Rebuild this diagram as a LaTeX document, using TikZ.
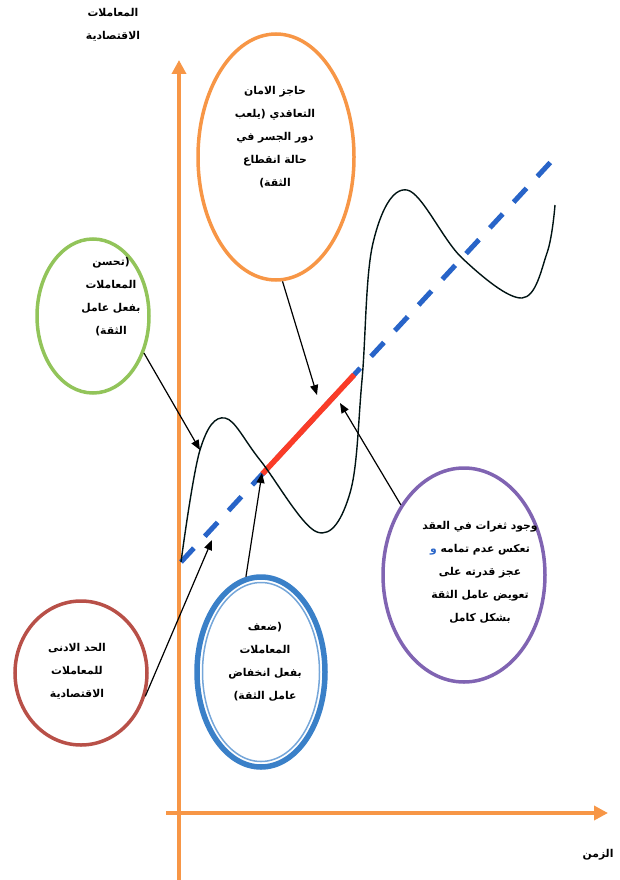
\documentclass[tikz,border=0pt]{standalone}
\usepackage{fontspec}
\usetikzlibrary{shapes.geometric,arrows.meta,calc}
\newfontfamily\arabicfont[Script=Arabic]{DejaVu Sans}
\TeXXeTstate=1
\newcommand{\artxt}[1]{\beginR #1\endR}
\definecolor{axisor}{RGB}{247,150,70}
\definecolor{bubor}{RGB}{247,150,70}
\definecolor{bubgr}{RGB}{146,196,90}
\definecolor{bubpu}{RGB}{128,100,178}
\definecolor{bubbl}{RGB}{58,128,200}
\definecolor{bubrd}{RGB}{184,80,72}
\definecolor{trendbl}{RGB}{40,100,200}
\definecolor{trendrd}{RGB}{250,60,40}
\tikzset{
  bubble/.style={draw,ellipse,line width=3.5pt,inner sep=0pt},
  lbl/.style={align=center,font=\arabicfont\bfseries\fontsize{10.8}{23}\selectfont},
  pointer/.style={-{Triangle[length=10pt,width=8pt]},line width=1.2pt},
  axisln/.style={axisor,line width=4pt,-{Triangle[length=14pt,width=14pt]}}
}
\begin{document}
\begin{tikzpicture}[x=1pt,y=-1pt]
\useasboundingbox (0,0) rectangle (619,880);
\draw[axisln] (179,880) -- (179,60);
\draw[axisln] (166,813) -- (608,813);
\node[lbl] (ylab) at (113,25) {\artxt{المعاملات}\\\artxt{الاقتصادية}};
\node[lbl,anchor=east] (xlab) at (617,855) {\artxt{الزمن}};
\coordinate (t0) at (181,562); \coordinate (t1) at (560,152);
\draw[trendbl,line width=5pt,dash pattern=on 19pt off 16pt] (t0) -- (t1);
\draw[trendrd,line width=5.5pt] ($(t0)!0.215!(t1)$) -- ($(t0)!0.457!(t1)$);
\draw[line width=1.4pt,black!85!teal] plot[smooth,tension=0.6] coordinates {(181,562) (200,450) (225,418) (260,460) (317,532) (350,493) (362,380) (373,243) (407,190) (462,258) (522,298) (547,253) (555,205)};
\node[bubble,draw=bubor,minimum width=156pt,minimum height=246pt] (safety) at (276,157) {};
\node[bubble,draw=bubgr,minimum width=112pt,minimum height=154pt] (improve) at (93,316) {};
\node[bubble,draw=bubpu,minimum width=162pt,minimum height=214pt] (gaps) at (464,575) {};
\node[bubble,draw=bubbl,line width=5.5pt,minimum width=128pt,minimum height=190pt] (weak) at (261,672) {};
\node[draw=bubbl!70!white,ellipse,line width=1.5pt,inner sep=0pt,minimum width=117pt,minimum height=179pt] (weakin) at (261,672) {};
\node[bubble,draw=bubrd,minimum width=132pt,minimum height=144pt] (floor) at (81,673) {};
\node[lbl] (safetyT) at (275,137) {\artxt{حاجز الامان}\\\artxt{التعاقدي (يلعب}\\\artxt{دور الجسر في}\\\artxt{حالة انقطاع}\\\artxt{الثقة)}};
\node[lbl] (improveT) at (111,297) {\artxt{(تحسن}\\\artxt{المعاملات}\\\artxt{بفعل عامل}\\\artxt{الثقة)}};
\node[lbl] (gapsT) at (480,572) {\artxt{وجود ثغرات في العقد}\\\textcolor{trendbl}{و}\ \artxt{تعكس عدم تمامه}\\\artxt{عجز قدرته على}\\\artxt{تعويض عامل الثقة}\\\artxt{بشكل كامل}};
\node[lbl] (weakT) at (265,662) {\artxt{(ضعف}\\\artxt{المعاملات}\\\artxt{بفعل انخفاض}\\\artxt{عامل الثقة)}};
\node[lbl] (floorT) at (77,671) {\artxt{الحد الادنى}\\\artxt{للمعاملات}\\\artxt{الاقتصادية}};
\coordinate (pImprove) at (200,450); \coordinate (pSafety) at (317,395); \coordinate (pGaps) at (340,403);
\coordinate (pWeak) at (262,473); \coordinate (pFloor) at (212,540);
\draw[pointer] (improve.-36) -- (pImprove);
\draw[pointer] (safety.-87) -- (pSafety);
\draw[pointer] (gaps.132) -- (pGaps);
\draw[pointer] (weak.99) -- (pWeak);
\draw[pointer] (floor.-20) -- (pFloor);
\end{tikzpicture}
\end{document}
